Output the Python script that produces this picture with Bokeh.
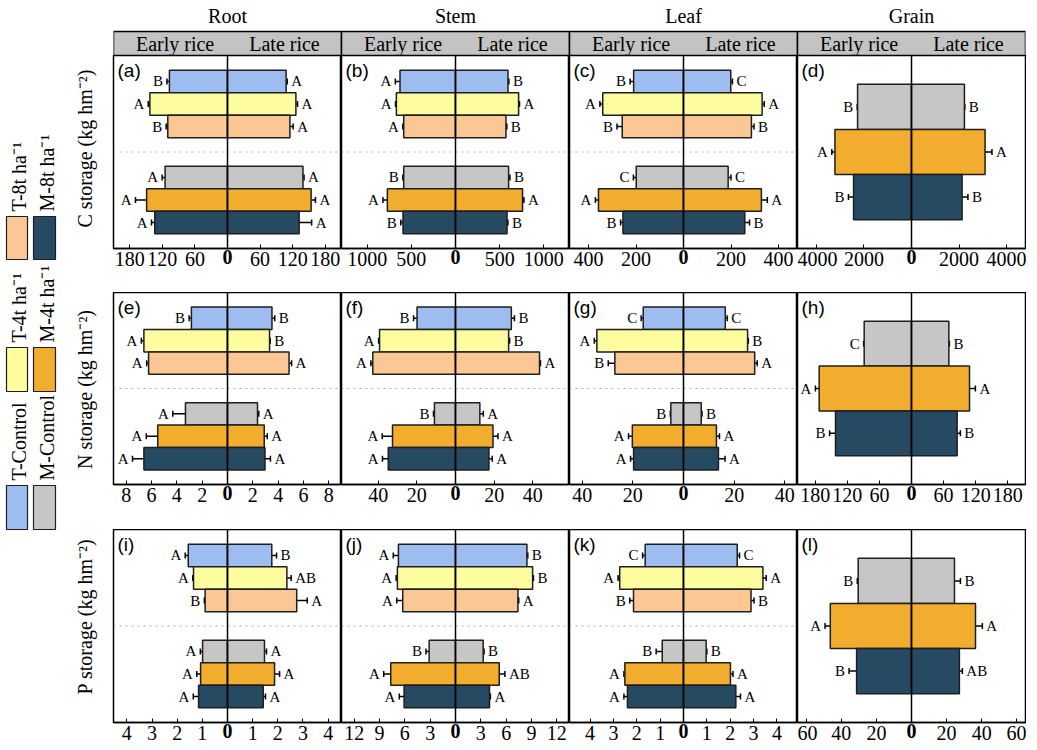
import math

from bokeh.core.properties import value
from bokeh.embed import file_html
from bokeh.layouts import column, row
from bokeh.models import (ColumnDataSource, CustomJSTickFormatter, FixedTicker,
                          Range1d, Span, TeeHead, Whisker)
from bokeh.plotting import figure
from bokeh.resources import INLINE

SERIF = "Liberation Serif"
SANS = "Liberation Sans"

# ---------------------------------------------------------------- categories
treatments = ["T-Control", "T-4t ha⁻¹", "T-8t ha⁻¹",
              "M-Control", "M-4t ha⁻¹", "M-8t ha⁻¹"]
colors = ["#9dbdf0", "#fdfd9f", "#fbc895", "#c6c6c6", "#f2ad2f", "#264a61"]
organs = ["Root", "Stem", "Leaf", "Grain"]
seasons = ["Early rice", "Late rice"]
elements = ["C", "N", "P"]
panel_tags = ["a", "b", "c", "d", "e", "f", "g", "h", "i", "j", "k", "l"]

# ---------------------------------------------------------------- C storage
c_root_early = [107, 143, 110, 115, 149, 134]
c_root_early_sd = [4.6, 3, 3, 5.5, 20.5, 6]
c_root_late = [108, 126, 115, 139, 154, 132]
c_root_late_sd = [2, 3, 6, 2, 8, 23]
c_root_early_let = ["B", "A", "B", "A", "A", "A"]
c_root_late_let = ["A", "A", "A", "A", "A", "A"]

c_stem_early = [628, 669, 586, 586, 771, 594]
c_stem_early_sd = [53, 10, 10, 10, 50, 25]
c_stem_late = [594, 714, 571, 601, 759, 583]
c_stem_late_sd = [10, 10, 10, 15, 15, 10]
c_stem_early_let = ["A", "A", "A", "B", "A", "B"]
c_stem_late_let = ["B", "A", "B", "B", "A", "B"]

c_leaf_early = [210, 340, 258, 199, 358, 255]
c_leaf_early_sd = [15, 12, 22, 12, 13, 10]
c_leaf_late = [199, 331, 286, 188, 328, 258]
c_leaf_late_sd = [7, 9, 11, 12, 25, 20]
c_leaf_early_let = ["B", "A", "B", "C", "A", "B"]
c_leaf_late_let = ["C", "A", "B", "C", "A", "B"]

c_grain_early = [2266, 3217, 2434]
c_grain_early_sd = [15, 130, 215]
c_grain_late = [2224, 3091, 2126]
c_grain_late_sd = [15, 290, 245]
c_grain_early_let = ["B", "A", "B"]
c_grain_late_let = ["B", "A", "B"]

# ---------------------------------------------------------------- N storage
n_root_early = [2.85, 6.6, 6.23, 3.32, 5.51, 6.6]
n_root_early_sd = [0.18, 0.2, 0.15, 1.0, 0.9, 0.9]
n_root_late = [3.51, 3.32, 4.86, 2.37, 2.9, 2.96]
n_root_late_sd = [0.22, 0.05, 0.2, 0.1, 0.24, 0.43]
n_root_early_let = ["B", "A", "A", "A", "A", "A"]
n_root_late_let = ["B", "B", "A", "A", "A", "A"]

n_stem_early = [19.9, 39.3, 42.8, 10.9, 32.6, 34.8]
n_stem_early_sd = [1.8, 0.5, 1.0, 0.5, 5.3, 3.0]
n_stem_late = [28.9, 27.5, 43.5, 12.6, 19.4, 17.3]
n_stem_late_sd = [1.6, 0.5, 0.5, 1.8, 2.6, 1.7]
n_stem_early_let = ["B", "A", "A", "B", "A", "A"]
n_stem_late_let = ["B", "B", "A", "A", "A", "A"]

n_leaf_early = [15.9, 34.2, 27.1, 5.0, 20.2, 19.7]
n_leaf_early_sd = [0.8, 1.0, 2.6, 0.2, 1.5, 1.2]
n_leaf_late = [16.5, 25.3, 28.1, 7.0, 13.0, 13.8]
n_leaf_late_sd = [0.8, 0.3, 1.0, 0.3, 1.2, 2.6]
n_leaf_early_let = ["C", "A", "B", "B", "A", "A"]
n_leaf_late_let = ["C", "B", "A", "B", "A", "A"]

n_grain_early = [88.4, 172.5, 142]
n_grain_early_sd = [1, 7, 11]
n_grain_late = [69.8, 108.4, 85.3]
n_grain_late_sd = [1, 11, 6]
n_grain_early_let = ["C", "A", "B"]
n_grain_late_let = ["B", "A", "B"]

# ---------------------------------------------------------------- P storage
p_root_early = [1.56, 1.35, 0.89, 0.99, 1.07, 1.15]
p_root_early_sd = [0.12, 0.03, 0.03, 0.09, 0.15, 0.21]
p_root_late = [1.76, 2.36, 2.75, 1.47, 1.87, 1.42]
p_root_late_sd = [0.19, 0.17, 0.42, 0.08, 0.2, 0.09]
p_root_early_let = ["A", "A", "B", "A", "A", "A"]
p_root_late_let = ["B", "AB", "A", "A", "A", "A"]

p_stem_early = [6.76, 6.88, 6.25, 3.12, 7.67, 6.09]
p_stem_early_sd = [0.61, 0.15, 0.71, 0.38, 0.83, 0.57]
p_stem_late = [8.46, 9.13, 7.39, 3.28, 5.18, 4.03]
p_stem_late_sd = [0.1, 0.1, 0.1, 0.1, 0.67, 0.1]
p_stem_early_let = ["A", "A", "A", "B", "A", "A"]
p_stem_late_let = ["B", "B", "A", "B", "AB", "A"]

p_leaf_early = [1.64, 2.73, 2.14, 0.91, 2.51, 2.40]
p_leaf_early_sd = [0.11, 0.07, 0.16, 0.26, 0.04, 0.15]
p_leaf_late = [2.30, 3.40, 2.89, 0.97, 2.01, 2.24]
p_leaf_late_sd = [0.1, 0.14, 0.13, 0.03, 0.11, 0.2]
p_leaf_early_let = ["C", "A", "B", "B", "A", "A"]
p_leaf_late_let = ["C", "A", "B", "B", "A", "A"]

p_grain_early = [30.4, 46.3, 31.3]
p_grain_early_sd = [0.5, 3.0, 4.3]
p_grain_late = [24.5, 36.5, 27.3]
p_grain_late_sd = [3.4, 3.9, 1.7]
p_grain_early_let = ["B", "A", "B"]
p_grain_late_let = ["B", "A", "AB"]

# ---------------------------------------------------------------- axes
axis_half = [210, 1290, 480, 4790,
             9, 59, 45, 213,
             4.53, 13.5, 4.88, 65]
axis_ticks = [[-180, -120, -60, 0, 60, 120, 180],
              [-1000, -500, 0, 500, 1000],
              [-400, -200, 0, 200, 400],
              [-4000, -2000, 0, 2000, 4000],
              [-8, -6, -4, -2, 0, 2, 4, 6, 8],
              [-40, -20, 0, 20, 40],
              [-40, -20, 0, 20, 40],
              [-180, -120, -60, 0, 60, 120, 180],
              [-4, -3, -2, -1, 0, 1, 2, 3, 4],
              [-12, -9, -6, -3, 0, 3, 6, 9, 12],
              [-4, -3, -2, -1, 0, 1, 2, 3, 4],
              [-60, -40, -20, 0, 20, 40, 60]]

panels = [
    (c_root_early, c_root_early_sd, c_root_late, c_root_late_sd, c_root_early_let, c_root_late_let),
    (c_stem_early, c_stem_early_sd, c_stem_late, c_stem_late_sd, c_stem_early_let, c_stem_late_let),
    (c_leaf_early, c_leaf_early_sd, c_leaf_late, c_leaf_late_sd, c_leaf_early_let, c_leaf_late_let),
    (c_grain_early, c_grain_early_sd, c_grain_late, c_grain_late_sd, c_grain_early_let, c_grain_late_let),
    (n_root_early, n_root_early_sd, n_root_late, n_root_late_sd, n_root_early_let, n_root_late_let),
    (n_stem_early, n_stem_early_sd, n_stem_late, n_stem_late_sd, n_stem_early_let, n_stem_late_let),
    (n_leaf_early, n_leaf_early_sd, n_leaf_late, n_leaf_late_sd, n_leaf_early_let, n_leaf_late_let),
    (n_grain_early, n_grain_early_sd, n_grain_late, n_grain_late_sd, n_grain_early_let, n_grain_late_let),
    (p_root_early, p_root_early_sd, p_root_late, p_root_late_sd, p_root_early_let, p_root_late_let),
    (p_stem_early, p_stem_early_sd, p_stem_late, p_stem_late_sd, p_stem_early_let, p_stem_late_let),
    (p_leaf_early, p_leaf_early_sd, p_leaf_late, p_leaf_late_sd, p_leaf_early_let, p_leaf_late_let),
    (p_grain_early, p_grain_early_sd, p_grain_late, p_grain_late_sd, p_grain_early_let, p_grain_late_let),
]

# ---------------------------------------------------------------- layout sizes
LEFT_W = 112
PANEL_W = 228
HEADER_H = 55
FRAME_H = [193, 192, 193]
BOTTOM_H = [44, 45, 28]
Y_HALF = 4.28
OUTLINE = "#1e1e1e"
LABEL_GAP = 3      # px between frame bottom and tick labels
LABEL_EXTENT = 19  # pulls the axis label back up onto the tick-label row


def make_panel(idx):
    early, early_sd, late, late_sd, early_let, late_let = panels[idx]
    r, c = divmod(idx, 4)
    half = axis_half[idx]
    grain = len(early) == 3
    if grain:
        ys = [2.0 * (1 - k) for k in range(3)]
        bar_h = 2.0
        cols = colors[3:]
    else:
        ys = [3.13 - k for k in range(3)] + [-1.13 - k for k in range(3)]
        bar_h = 1.0
        cols = colors

    pad_l = 1 if c == 0 else 0
    pad_r = 1 if c == 3 else 0
    p = figure(width=PANEL_W + pad_l + pad_r, height=FRAME_H[r] + BOTTOM_H[r],
               x_range=Range1d(-half, half), y_range=Range1d(-Y_HALF, Y_HALF),
               toolbar_location=None, output_backend="svg",
               y_axis_location=None, x_axis_location="below",
               min_border_left=pad_l, min_border_right=pad_r,
               min_border_top=0, min_border_bottom=BOTTOM_H[r])
    p.outline_line_color = "black"
    p.outline_line_width = 1.5
    p.grid.visible = False
    p.background_fill_color = "white"
    p.border_fill_color = "white"

    src = ColumnDataSource(dict(
        y=ys,
        neg=[-v for v in early],
        pos=list(late),
        color=cols,
        e_lo=[-v - s for v, s in zip(early, early_sd)],
        e_hi=[-v + s for v, s in zip(early, early_sd)],
        l_lo=[v - s for v, s in zip(late, late_sd)],
        l_hi=[v + s for v, s in zip(late, late_sd)],
        e_let=early_let,
        l_let=late_let,
    ))

    if not grain:
        p.add_layout(Span(location=0, dimension="width", line_color="#9a9a9a",
                          line_dash="dotted", line_width=0.8, level="underlay"))

    p.hbar(y="y", left="neg", right=0, height=bar_h, source=src,
           fill_color="color", line_color=OUTLINE, line_width=1.5)
    p.hbar(y="y", left=0, right="pos", height=bar_h, source=src,
           fill_color="color", line_color=OUTLINE, line_width=1.5)

    for lo, hi in (("e_lo", "e_hi"), ("l_lo", "l_hi")):
        p.add_layout(Whisker(source=src, base="y", lower=lo, upper=hi,
                             dimension="width", line_color="black", line_width=1.5,
                             upper_head=TeeHead(size=6, line_width=1.5),
                             lower_head=TeeHead(size=6, line_width=1.5)))

    p.add_layout(Span(location=0, dimension="height", line_color="black",
                      line_width=1.5))

    p.text(x="e_lo", y="y", text="e_let", source=src, x_offset=-4,
           text_align="right", text_baseline="middle",
           text_font=value(SERIF), text_font_size=value("15px"), text_color="black")
    p.text(x="l_hi", y="y", text="l_let", source=src, x_offset=4,
           text_align="left", text_baseline="middle",
           text_font=value(SERIF), text_font_size=value("15px"), text_color="black")

    p.text(x=[-half], y=[Y_HALF], text=[f"({panel_tags[idx]})"], x_offset=4, y_offset=4,
           text_align="left", text_baseline="top",
           text_font=value(SANS), text_font_size=value("19px"), text_color="black")

    ax = p.xaxis[0]
    ax.ticker = FixedTicker(ticks=axis_ticks[idx], minor_ticks=[])
    # the centre tick is written in bold through the axis label, which is
    # centred under the frame (where 0 sits on these symmetric axes)
    ax.formatter = CustomJSTickFormatter(
        code="return tick == 0 ? '' : Math.abs(tick).toString();")
    ax.major_tick_in = 4
    ax.major_tick_out = 0
    ax.major_tick_line_width = 1
    ax.minor_tick_line_color = None
    ax.axis_line_width = 1.5
    ax.major_label_standoff = LABEL_GAP
    ax.major_label_text_font = SERIF
    ax.major_label_text_font_size = "20px"
    ax.major_label_text_color = "black"
    ax.axis_label = "0"
    ax.axis_label_text_font = SERIF
    ax.axis_label_text_font_size = "20px"
    ax.axis_label_text_font_style = "bold"
    ax.axis_label_text_color = "black"
    ax.axis_label_standoff = -LABEL_EXTENT
    return p


# ---------------------------------------------------------------- header strip
header = figure(width=PANEL_W * 4 + 2, height=HEADER_H,
                x_range=Range1d(0, len(organs)), y_range=Range1d(HEADER_H, 0),
                toolbar_location=None, output_backend="svg",
                x_axis_location=None, y_axis_location=None,
                min_border_left=1, min_border_right=1, min_border_top=0, min_border_bottom=0)
header.outline_line_color = None
header.grid.visible = False
header.quad(left=list(range(len(organs))), right=[i + 1 for i in range(len(organs))],
            top=31, bottom=HEADER_H, fill_color="#c3c3c3", line_color="black", line_width=1.5)
header.text(x=[i + 0.5 for i in range(len(organs))], y=15, text=organs,
            text_align="center", text_baseline="middle",
            text_font=value(SERIF), text_font_size=value("20px"), text_color="black")
header.text(x=[i + f for i in range(len(organs)) for f in (0.27, 0.75)], y=43,
            text=[s for _ in organs for s in seasons],
            text_align="center", text_baseline="middle",
            text_font=value(SERIF), text_font_size=value("20px"), text_color="black")

# ---------------------------------------------------------------- left strip: legend + y titles
left = figure(width=LEFT_W, height=sum(FRAME_H) + sum(BOTTOM_H) + HEADER_H,
              x_range=Range1d(0, LEFT_W), y_range=Range1d(750, 0),
              toolbar_location=None, output_backend="svg",
              x_axis_location=None, y_axis_location=None,
              min_border_left=0, min_border_right=0, min_border_top=0, min_border_bottom=0)
left.outline_line_color = None
left.grid.visible = False

swatch_x = [(6, 27), (33, 55)]           # T series column, M series column
swatch_y = [(485, 529), (347, 391), (216, 259)]  # Control, 4t, 8t
label_x = [18, 46]
for k, name in enumerate(treatments):
    series, level = divmod(k, 3)
    x0, x1 = swatch_x[series]
    top, bottom = swatch_y[level]
    left.quad(left=[x0], right=[x1], top=[top], bottom=[bottom],
              fill_color=colors[k], line_color=OUTLINE, line_width=1.2)
    left.text(x=[label_x[series]], y=[top - 5], text=[name], angle=math.pi / 2,
              text_align="left", text_baseline="middle",
              text_font=value(SERIF), text_font_size=value("20px"), text_color="black")

ylabel_y = [148, 389, 616]
left.text(x=[84] * 3, y=ylabel_y, text=[f"{e} storage (kg hm⁻²)" for e in elements],
          angle=math.pi / 2, text_align="center", text_baseline="middle",
          text_font=value(SERIF), text_font_size=value("20px"), text_color="black")

rows = [row(*[make_panel(r * 4 + c) for c in range(4)], spacing=0) for r in range(3)]
layout = row(left, column(header, *rows, spacing=0), spacing=0)

open("out.html", "w").write(file_html(layout, INLINE))
